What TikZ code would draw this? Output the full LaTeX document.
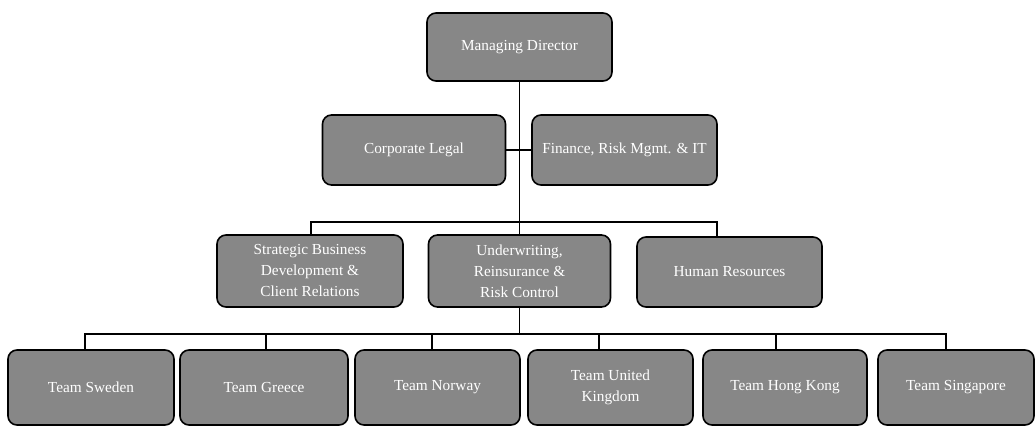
\documentclass[tikz,border=0pt]{standalone}
\usepackage{fontspec}
\setmainfont{Liberation Serif}
\definecolor{boxgray}{RGB}{135,135,135}
\begin{document}
\begin{tikzpicture}[x=1pt,y=-1pt,
  box/.style={draw=black, line width=1.6pt, fill=boxgray, rounded corners=9pt,
    text=white, align=center, font=\fontsize{15.3}{21}\selectfont, inner sep=0pt},
  link/.style={line width=1.8pt, draw=black}]
\useasboundingbox (0,0) rectangle (1035,427);
% level 0
\node[box, minimum width=185pt, minimum height=68pt] (md) at (519.5,47) {Managing Director};
% level 1
\node[box, minimum width=183pt, minimum height=70pt] (cl) at (414,150) {Corporate Legal};
\node[box, minimum width=185pt, minimum height=70pt] (fin) at (624.5,150) {Finance, Risk Mgmt. \& IT};
% level 2
\node[box, minimum width=186pt, minimum height=72pt] (sb) at (310,271) {Strategic Business\\Development \&\\Client Relations};
\node[box, minimum width=182pt, minimum height=72pt] (uw) at (519.5,271) {Underwriting,\\Reinsurance \&\\Risk Control};
\node[box, minimum width=185pt, minimum height=70pt] (hr) at (729.5,272) {Human Resources};
% level 3
\node[box, minimum width=166pt, minimum height=75pt] (sw) at (91,387.5) {Team Sweden};
\node[box, minimum width=168pt, minimum height=75pt] (gr) at (264,387.5) {Team Greece};
\node[box, minimum width=165pt, minimum height=75pt] (no) at (437.5,387.5) {Team Norway};
\node[box, minimum width=165pt, minimum height=75pt] (uk) at (610.5,387.5) {Team United\\Kingdom};
\node[box, minimum width=164pt, minimum height=75pt] (hk) at (785,387.5) {Team Hong Kong};
\node[box, minimum width=156pt, minimum height=75pt] (sg) at (956,387.5) {Team Singapore};
% connectors
\coordinate (c1) at (311,222);
\coordinate (c3) at (717,222);
\draw[link] (md.south) -- (uw.north);
\draw[link] (cl.east) -- (fin.west);
\draw[link] (c1 |- sb.north) -- (c1) -- (c3) -- (c3 |- hr.north);
\coordinate (d1) at (85,334);
\coordinate (d2) at (266,334);
\coordinate (d3) at (432,334);
\coordinate (d4) at (599,334);
\coordinate (d5) at (776,334);
\coordinate (d6) at (946,334);
\draw[link] (uw.south) -- (uw.south |- d1);
\draw[link] (d1 |- sw.north) -- (d1) -- (d6) -- (d6 |- sg.north);
\draw[link] (d2) -- (d2 |- gr.north);
\draw[link] (d3) -- (d3 |- no.north);
\draw[link] (d4) -- (d4 |- uk.north);
\draw[link] (d5) -- (d5 |- hk.north);
\end{tikzpicture}
\end{document}
